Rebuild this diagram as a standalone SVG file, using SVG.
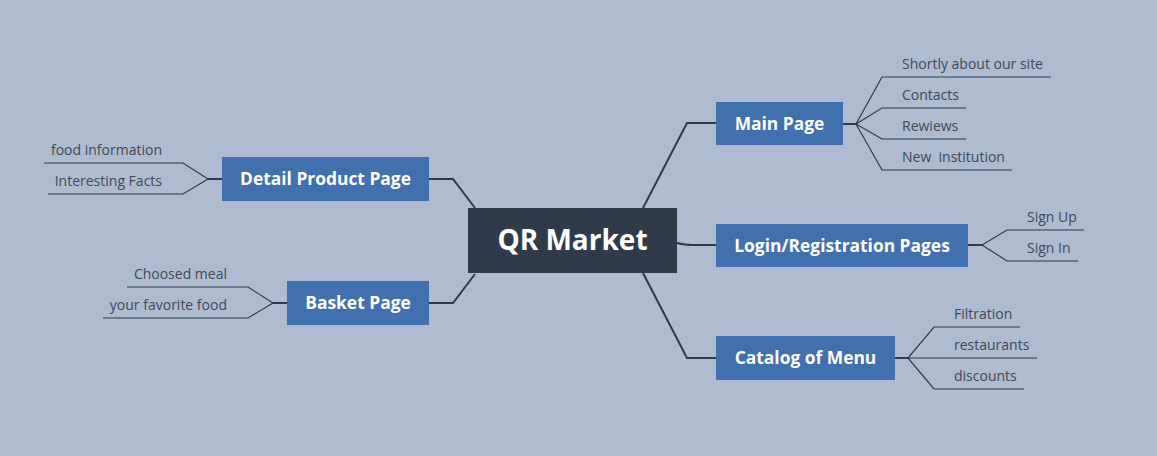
<svg xmlns="http://www.w3.org/2000/svg" width="1157" height="456" viewBox="0 0 1157 456">
<style>
.bg{fill:#aebbd0}
.main{fill:#4170ae}
.center{fill:#2f3b4b}
.t1{font-family:"Open Sans","Liberation Sans",sans-serif;font-weight:bold;font-size:17.4px;fill:#ffffff;text-anchor:middle}
.t0{font-family:"Open Sans","Liberation Sans",sans-serif;font-weight:bold;font-size:28px;fill:#ffffff;text-anchor:middle}
.t2{font-family:"Open Sans","Liberation Sans",sans-serif;font-size:14px;fill:#3f4858}
.end{text-anchor:end}
.c1{fill:none;stroke:#2f3b4b;stroke-width:2}
.c2{fill:none;stroke:#2f3b4b;stroke-width:1.2}
</style>
<rect class="bg" x="0" y="0" width="1157" height="456"/>
<g id="connectors">
<path class="c1" d="M643,208 L687,123 L716,123"/>
<path class="c1" d="M677,243 Q686,245 692,245 L716,245"/>
<path class="c1" d="M643,273 L687,358 L716,358"/>
<path class="c1" d="M475,208 L453,179 L429,179"/>
<path class="c1" d="M475,274 L453,303 L429,303"/>
<path class="c1" d="M843,124 L856,124"/>
<path class="c2" d="M856,124 L882,77 L1051,77"/>
<path class="c2" d="M856,124 L882,108 L966,108"/>
<path class="c2" d="M856,124 L882,139 L966,139"/>
<path class="c2" d="M856,124 L882,170 L1012,170"/>
<path class="c1" d="M968,245 L982,245"/>
<path class="c2" d="M982,245 L1007,230 L1084,230"/>
<path class="c2" d="M982,245 L1007,261 L1078,261"/>
<path class="c1" d="M895,358 L908,358"/>
<path class="c2" d="M908,358 L934,327 L1020,327"/>
<path class="c2" d="M908,358 L1037,358"/>
<path class="c2" d="M908,358 L934,389 L1024,389"/>
<path class="c1" d="M222,179 L208,179"/>
<path class="c2" d="M208,179 L183,163 L44,163"/>
<path class="c2" d="M208,179 L183,194 L48,194"/>
<path class="c1" d="M287,303 L273,303"/>
<path class="c2" d="M273,303 L248,287 L127,287"/>
<path class="c2" d="M273,303 L248,318 L103,318"/>
</g>
<g id="center">
<rect class="center" x="468" y="208" width="209" height="65"/>
<text class="t0" x="572.5" y="250">QR Market</text>
</g>
<g id="main-page">
<rect class="main" x="716" y="102" width="127" height="43"/>
<text class="t1" x="779.5" y="130">Main Page</text>
</g>
<g id="login">
<rect class="main" x="716" y="224" width="252" height="43"/>
<text class="t1" x="842" y="252">Login/Registration Pages</text>
</g>
<g id="catalog">
<rect class="main" x="716" y="336" width="179" height="44"/>
<text class="t1" x="805.5" y="364">Catalog of Menu</text>
</g>
<g id="detail">
<rect class="main" x="222" y="157" width="207" height="44"/>
<text class="t1" x="325.5" y="185">Detail Product Page</text>
</g>
<g id="basket">
<rect class="main" x="287" y="281" width="142" height="44"/>
<text class="t1" x="358" y="309">Basket Page</text>
</g>
<g id="sub-shortly"><text class="t2" x="902" y="69">Shortly about our site</text></g>
<g id="sub-contacts"><text class="t2" x="902" y="100">Contacts</text></g>
<g id="sub-rewiews"><text class="t2" x="902" y="131">Rewiews</text></g>
<g id="sub-new"><text class="t2" x="902" y="162" xml:space="preserve">New  institution</text></g>
<g id="sub-signup"><text class="t2" x="1027" y="222">Sign Up</text></g>
<g id="sub-signin"><text class="t2" x="1027" y="253">Sign In</text></g>
<g id="sub-filtration"><text class="t2" x="954" y="319">Filtration</text></g>
<g id="sub-restaurants"><text class="t2" x="954" y="350">restaurants</text></g>
<g id="sub-discounts"><text class="t2" x="954" y="381">discounts</text></g>
<g id="sub-food"><text class="t2 end" x="162" y="155">food information</text></g>
<g id="sub-facts"><text class="t2 end" x="162" y="186">Interesting Facts</text></g>
<g id="sub-choosed"><text class="t2 end" x="227" y="279">Choosed meal</text></g>
<g id="sub-favorite"><text class="t2 end" x="227" y="310">your favorite food</text></g>
</svg>
